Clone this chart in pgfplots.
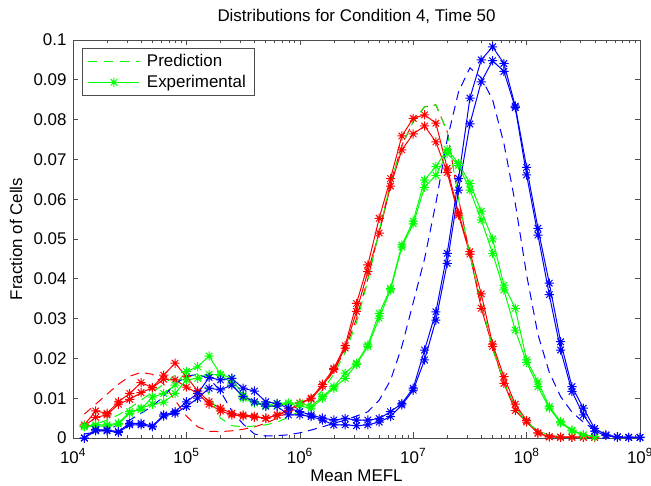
\documentclass[border=0pt]{standalone}
\usepackage{fontspec}
\setmainfont{Liberation Sans}
\usepackage{pgfplots}
\pgfplotsset{compat=1.18}
\usepackage{pgfplotstable}

\pgfdeclareplotmark{mstar}{%
  \pgfpathmoveto{\pgfqpoint{-\pgfplotmarksize}{0pt}}\pgfpathlineto{\pgfqpoint{\pgfplotmarksize}{0pt}}%
  \pgfpathmoveto{\pgfqpoint{0pt}{-\pgfplotmarksize}}\pgfpathlineto{\pgfqpoint{0pt}{\pgfplotmarksize}}%
  \pgfpathmoveto{\pgfqpoint{-.707\pgfplotmarksize}{-.707\pgfplotmarksize}}\pgfpathlineto{\pgfqpoint{.707\pgfplotmarksize}{.707\pgfplotmarksize}}%
  \pgfpathmoveto{\pgfqpoint{-.707\pgfplotmarksize}{.707\pgfplotmarksize}}\pgfpathlineto{\pgfqpoint{.707\pgfplotmarksize}{-.707\pgfplotmarksize}}%
  \pgfusepathqstroke}

\pgfplotstableread{
L rA rB rP gA gB gP bA bB bP
4.1 .0033 .0030 .0060 .0030 .0028 .0028 .0000 .0000 .0010
4.2 .0068 .0052 .0085 .0033 .0030 .0035 .0021 .0018 .0015
4.3 .0062 .0058 .0110 .0033 .0030 .0045 .0020 .0018 .0022
4.4 .0091 .0085 .0135 .0037 .0035 .0058 .0016 .0014 .0032
4.5 .0112 .0097 .0155 .0066 .0062 .0075 .0037 .0033 .0045
4.6 .0139 .0114 .0165 .0072 .0075 .0095 .0037 .0033 .0062
4.7 .0127 .0126 .0160 .0103 .0085 .0115 .0030 .0028 .0080
4.8 .0158 .0148 .0135 .0112 .0090 .0135 .0058 .0055 .0105
4.9 .0188 .0146 .0095 .0133 .0112 .0158 .0066 .0062 .0135
5.0 .0154 .0128 .0055 .0167 .0146 .0170 .0091 .0079 .0155
5.1 .0118 .0112 .0028 .0179 .0150 .0160 .0112 .0100 .0160
5.2 .0091 .0085 .0017 .0206 .0160 .0110 .0152 .0125 .0150
5.3 .0075 .0068 .0016 .0160 .0158 .0050 .0146 .0121 .0118
5.4 .0062 .0058 .0018 .0150 .0138 .0031 .0150 .0133 .0068
5.5 .0058 .0055 .0022 .0108 .0100 .0028 .0125 .0104 .0035
5.6 .0055 .0052 .0028 .0091 .0088 .0030 .0118 .0091 .0010
5.7 .0049 .0050 .0037 .0083 .0080 .0033 .0091 .0080 .0005
5.8 .0058 .0057 .0050 .0087 .0082 .0040 .0087 .0080 .0006
5.9 .0070 .0068 .0065 .0088 .0086 .0052 .0075 .0058 .0008
6.0 .0088 .0087 .0083 .0087 .0080 .0068 .0066 .0058 .0013
6.1 .0100 .0098 .0103 .0080 .0075 .0090 .0058 .0054 .0020
6.2 .0135 .0130 .0130 .0104 .0100 .0120 .0050 .0045 .0028
6.3 .0175 .0172 .0168 .0129 .0125 .0160 .0045 .0033 .0037
6.4 .0232 .0226 .0222 .0163 .0150 .0215 .0049 .0033 .0045
6.5 .0338 .0318 .0300 .0188 .0185 .0290 .0045 .0031 .0055
6.6 .0435 .0418 .0400 .0234 .0230 .0395 .0045 .0033 .0066
6.7 .0552 .0515 .0520 .0313 .0301 .0520 .0049 .0040 .0095
6.8 .0652 .0633 .0640 .0376 .0372 .0640 .0066 .0054 .0145
6.9 .0759 .0724 .0735 .0485 .0480 .0735 .0087 .0083 .0230
7.0 .0803 .0764 .0795 .0545 .0538 .0795 .0125 .0120 .0340
7.1 .0812 .0784 .0832 .0648 .0630 .0832 .0221 .0196 .0450
7.2 .0791 .0744 .0837 .0682 .0660 .0837 .0317 .0296 .0590
7.3 .0678 .0667 .0770 .0725 .0715 .0770 .0464 .0439 .0750
7.4 .0565 .0560 .0600 .0690 .0685 .0600 .0652 .0623 .0870
7.5 .0468 .0462 .0460 .0640 .0623 .0460 .0854 .0789 .0930
7.6 .0362 .0326 .0340 .0570 .0548 .0340 .0950 .0895 .0905
7.7 .0236 .0230 .0225 .0500 .0464 .0225 .0983 .0948 .0850
7.8 .0154 .0137 .0140 .0384 .0372 .0140 .0941 .0921 .0740
7.9 .0085 .0069 .0078 .0326 .0271 .0078 .0834 .0830 .0590
8.0 .0044 .0040 .0040 .0196 .0190 .0040 .0680 .0661 .0410
8.1 .0013 .0012 .0018 .0141 .0129 .0018 .0527 .0510 .0260
8.2 .0003 .0003 .0007 .0079 .0075 .0007 .0389 .0360 .0165
8.3 .0002 .0002 .0003 .0041 .0038 .0003 .0242 .0221 .0104
8.4 .0002 .0002 .0001 .0020 .0018 .0001 .0129 .0117 .0065
8.5 .0002 .0002 nan .0008 .0007 nan .0075 .0058 .0040
8.6 .0002 .0002 nan .0004 .0004 nan .0024 .0017 .0020
8.7 nan nan nan nan nan nan .0008 .0006 .0010
8.8 nan nan nan nan nan nan .0003 .0002 .0003
8.9 nan nan nan nan nan nan .0002 .0001 nan
9.0 nan nan nan nan nan nan .0002 .0001 nan
}\data

\newcommand{\fs}{\fontsize{17}{20}\selectfont}

\begin{document}
\begin{tikzpicture}
\path[use as bounding box] (-73bp,-48bp) rectangle (578bp,438bp);
\begin{axis}[
  scale only axis, width=567bp, height=398bp,
  xmode=log, log basis x=10,
  xmin=1e4, xmax=1e9, ymin=0, ymax=0.1,
  xtick={1e4,1e5,1e6,1e7,1e8,1e9},
  minor xtick={2e4,3e4,4e4,5e4,6e4,7e4,8e4,9e4,2e5,3e5,4e5,5e5,6e5,7e5,8e5,9e5,2e6,3e6,4e6,5e6,6e6,7e6,8e6,9e6,2e7,3e7,4e7,5e7,6e7,7e7,8e7,9e7,2e8,3e8,4e8,5e8,6e8,7e8,8e8,9e8},
  xticklabels={10\textsuperscript{4},10\textsuperscript{5},10\textsuperscript{6},10\textsuperscript{7},10\textsuperscript{8},10\textsuperscript{9}},
  ytick={0,0.01,0.02,0.03,0.04,0.05,0.06,0.07,0.08,0.09,0.1},
  yticklabels={0,0.01,0.02,0.03,0.04,0.05,0.06,0.07,0.08,0.09,0.1},
  tick align=inside,
  major tick length=5.5bp, minor tick length=3bp,
  axis line style={black!70, line width=0.8bp},
  every tick/.style={black!70, line width=0.6bp},
  tick label style={font=\fs, black},
  xticklabel style={anchor=base, yshift=-25bp},
  yticklabel style={xshift=-3bp},
  title={Distributions for Condition 4, Time 50},
  title style={font=\fs, at={(axis description cs:0.5,1)}, anchor=base, yshift=13bp},
  xlabel={Mean MEFL},
  xlabel style={font=\fs, at={(axis description cs:0.5,0)}, anchor=base, yshift=-43bp},
  ylabel={Fraction of Cells},
  ylabel style={font=\fs, at={(axis description cs:-0.1005,0.5)}, anchor=center},
  legend style={font=\fs, at={(axis description cs:0.0153,0.979)}, anchor=north west,
    draw=black!70, line width=0.6bp, inner xsep=6bp, inner ysep=4bp, row sep=3bp,
    /tikz/every odd column/.append style={column sep=5bp}},
  legend cell align=left,
  legend image code/.code={\draw[mark repeat=2,mark phase=2,#1] plot coordinates {(0bp,0bp) (25.5bp,0bp) (51bp,0bp)};},
  every axis plot/.append style={line width=1bp, mark size=4.6bp},
  clip=true,
]
% red
\addplot[red, dash pattern=on 9bp off 6bp, forget plot] table[x expr={10^(\thisrow{L})}, y=rP] {\data};
\addplot[red, mark=mstar, mark options={solid}, forget plot] table[x expr={10^(\thisrow{L})}, y=rA] {\data};
\addplot[red, mark=mstar, mark options={solid}, forget plot] table[x expr={10^(\thisrow{L})}, y=rB] {\data};
% green
\addplot[green, dash pattern=on 9bp off 7bp] table[x expr={10^(\thisrow{L})}, y=gP] {\data};
\addlegendentry{Prediction}
\addplot[green, mark=mstar, mark options={solid}] table[x expr={10^(\thisrow{L})}, y=gA] {\data};
\addlegendentry{Experimental}
\addplot[green, mark=mstar, mark options={solid}, forget plot] table[x expr={10^(\thisrow{L})}, y=gB] {\data};
% blue
\addplot[blue, dash pattern=on 9bp off 6bp, forget plot] table[x expr={10^(\thisrow{L})}, y=bP] {\data};
\addplot[blue, mark=mstar, mark options={solid}, forget plot] table[x expr={10^(\thisrow{L})}, y=bA] {\data};
\addplot[blue, mark=mstar, mark options={solid}, forget plot] table[x expr={10^(\thisrow{L})}, y=bB] {\data};
\end{axis}
\end{tikzpicture}
\end{document}
